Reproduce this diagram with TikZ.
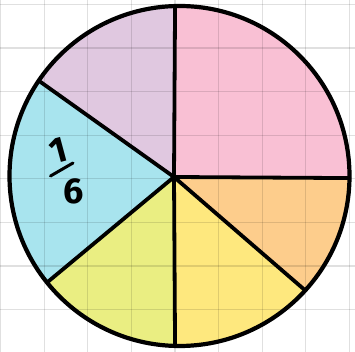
\documentclass[tikz,border=0pt]{standalone}
\usepackage{fontspec}
\setsansfont{Fira Sans}
\usetikzlibrary{positioning}

\definecolor{piepink}{RGB}{249,192,212}
\definecolor{pielilac}{RGB}{224,200,224}
\definecolor{piecyan}{RGB}{168,228,238}
\definecolor{pielime}{RGB}{234,238,130}
\definecolor{pieyellow}{RGB}{254,232,126}
\definecolor{pieorange}{RGB}{253,205,140}

\begin{document}
\begin{tikzpicture}[x=1pt, y=1pt,
        gridline/.style={black, opacity=0.12, line width=1.2pt},
        spoke/.style={black, line width=3.8pt, line cap=round},
        rim/.style={black, line width=4.2pt},
        digit/.style={font=\sffamily\bfseries\fontsize{36}{36}\selectfont, inner sep=0pt},
        fracbar/.style={black, line width=3pt, line cap=round}
      ]
      \useasboundingbox (0,0) rectangle (355,352);

      % centre of the rim and the point where the spokes meet
      \coordinate (c)   at (179.5,176);
      \coordinate (hub) at (174,175);

      % coloured sectors: start angle / end angle / colour
      \foreach \a/\b/\col in {-0.7/91.5/piepink, 91.5/145.9/pielilac,
          145.9/218.8/piecyan, 218.8/268.5/pielime,
          268.5/317.7/pieyellow, 317.7/359.3/pieorange}
        \fill[\col] (hub) -- ([shift={(\a:170)}]c)
          arc[start angle=\a, end angle=\b, radius=170] -- cycle;

      % squared paper
      \foreach \k in {0,...,8} {
        \draw[gridline] (0.5+43.6*\k, 0) -- (0.5+43.6*\k, 352);
        \draw[gridline] (0, 347.5-43.6*\k) -- (355, 347.5-43.6*\k);
      }

      % spoke ends on the rim
      \coordinate (rimtop)   at ([shift={(91.5:170)}]c);
      \coordinate (rimul)    at ([shift={(145.9:170)}]c);
      \coordinate (rimll)    at ([shift={(218.8:170)}]c);
      \coordinate (rimbot)   at ([shift={(268.5:170)}]c);
      \coordinate (rimlr)    at ([shift={(317.7:170)}]c);
      \coordinate (rimright) at ([shift={(-0.7:170)}]c);

      \foreach \p in {rimtop, rimul, rimll, rimbot, rimlr, rimright}
        \draw[spoke] (hub) -- (\p);

      \draw[rim] (c) circle[radius=170];

      % label of the blue sector
      \node[digit, rotate=15] (one) at (58,201)   {1};
      \node[digit]            (six) at (74,161) {6};
      \coordinate (barl) at (50.5,176);
      \coordinate (barr) at (73,189);
      \draw[fracbar] (barl) -- (barr);
    \end{tikzpicture}
\end{document}
